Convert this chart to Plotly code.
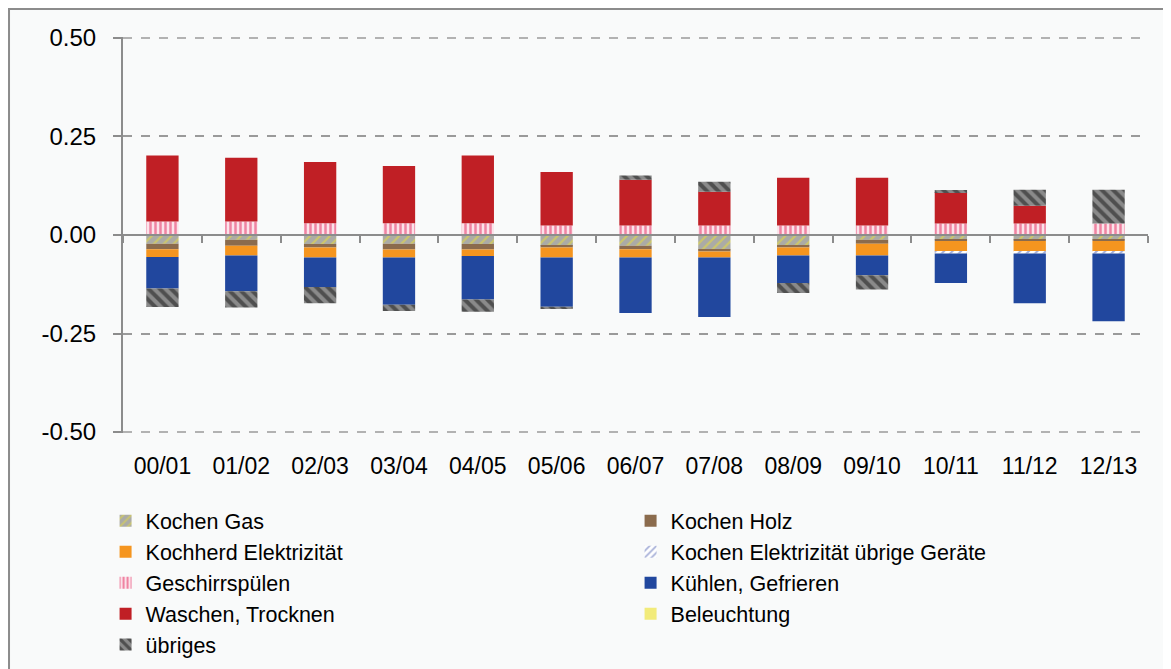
import plotly.graph_objects as go

# Data
seasons = ['00/01', '01/02', '02/03', '03/04', '04/05', '05/06', '06/07',
           '07/08', '08/09', '09/10', '10/11', '11/12', '12/13']

kochen_gas = [-0.022, -0.012, -0.023, -0.022, -0.023, -0.027, -0.027,
              -0.037, -0.027, -0.012, -0.012, -0.012, -0.012]
kochen_holz = [-0.014, -0.015, -0.009, -0.015, -0.014, -0.005, -0.009,
               -0.005, -0.005, -0.010, -0.003, -0.003, -0.003]
kochherd_el = [-0.020, -0.025, -0.025, -0.020, -0.016, -0.025, -0.021,
               -0.015, -0.020, -0.030, -0.027, -0.027, -0.027]
kochen_el_uebrige = [0, 0, 0, 0, 0, 0, 0, 0, 0, 0, -0.005, -0.005, -0.005]
geschirrspuelen = [0.034, 0.034, 0.030, 0.030, 0.030, 0.024, 0.024,
                   0.024, 0.024, 0.024, 0.029, 0.029, 0.029]
kuehlen = [-0.080, -0.091, -0.075, -0.120, -0.111, -0.125, -0.141,
           -0.151, -0.070, -0.050, -0.075, -0.126, -0.172]
waschen = [0.168, 0.162, 0.155, 0.145, 0.172, 0.136, 0.116,
           0.086, 0.121, 0.121, 0.080, 0.045, 0.0]
beleuchtung = [0] * 13
uebriges = [-0.047, -0.041, -0.041, -0.016, -0.031, -0.006, 0.011,
            0.025, -0.025, -0.036, 0.005, 0.041, 0.086]

y_ticks = [0.5, 0.25, 0.0, -0.25, -0.5]
y_labels = ['0.50', '0.25', '0.00', '-0.25', '-0.50']

FONT = 'Liberation Sans, Arial, sans-serif'
BG = '#F9FAFA'
GRID = '#9A9A9A'

# (name, values, color, pattern)
series = [
    ('Kochen Gas', kochen_gas, '#ABABA6',
     dict(shape='/', bgcolor='#ABABA6', fgcolor='#EDE230', size=7, solidity=0.3)),
    ('Kochen Holz', kochen_holz, '#8B6B4D', None),
    ('Kochherd Elektrizität', kochherd_el, '#F5951F', None),
    ('Kochen Elektrizität übrige Geräte', kochen_el_uebrige, '#FFFFFF',
     dict(shape='/', bgcolor='#FFFFFF', fgcolor='#4A5CAE', size=6, solidity=0.35)),
    ('Geschirrspülen', geschirrspuelen, '#FFFFFF',
     dict(shape='|', bgcolor='#FBE3EA', fgcolor='#E3245A', size=5, solidity=0.5)),
    ('Kühlen, Gefrieren', kuehlen, '#21479E', None),
    ('Waschen, Trocknen', waschen, '#C01F25', None),
    ('Beleuchtung', beleuchtung, '#F2EB7A', None),
    ('übriges', uebriges, '#8A8A8A',
     dict(shape='\\', bgcolor='#8A8A8A', fgcolor='#141414', size=8, solidity=0.5)),
]

fig = go.Figure()

for name, vals, color, pattern in series:
    marker = dict(color=color, line=dict(width=0))
    if pattern:
        marker['pattern'] = pattern
    fig.add_trace(go.Bar(x=seasons, y=vals, name=name, marker=marker))

# invisible trace on a second x axis, used to draw the zero line with ticks
fig.add_trace(go.Scatter(x=seasons, y=[None] * 13, xaxis='x2', mode='lines',
                         showlegend=False, hoverinfo='skip'))

# dashed lines at the outer ticks (plotly skips grid lines at the range ends)
edge_lines = [
    dict(type='line', xref='paper', yref='y', x0=0, x1=1, y0=v, y1=v,
         line=dict(color=GRID, width=1.5, dash='dash'), layer='below')
    for v in (y_ticks[0], y_ticks[-1])
]

# the page body adds an 8px margin, so the figure is 8px smaller than the window
fig.update_layout(
    width=1163,
    height=661,
    barmode='relative',
    bargap=0.59,
    paper_bgcolor=BG,
    plot_bgcolor=BG,
    font=dict(family=FONT, size=24, color='#000000'),
    margin=dict(l=115, r=23, t=29, b=236, autoexpand=False),
    xaxis=dict(
        type='category',
        range=[-0.5, 12.5],
        showline=False,
        showgrid=False,
        zeroline=False,
        ticks='',
        ticklabelstandoff=17,
        tickfont=dict(size=23),
    ),
    xaxis2=dict(
        type='category',
        overlaying='x',
        anchor='free',
        position=0.5,
        side='bottom',
        matches='x',
        showline=True,
        linecolor='#8C8C8C',
        linewidth=2,
        ticks='outside',
        tickson='boundaries',
        ticklen=7,
        tickwidth=2,
        tickcolor='#8C8C8C',
        showticklabels=False,
        showgrid=False,
    ),
    yaxis=dict(
        range=[-0.5025, 0.5025],
        tickvals=y_ticks,
        ticktext=y_labels,
        showline=True,
        linecolor='#8C8C8C',
        linewidth=2,
        ticks='outside',
        ticklen=8,
        tickwidth=2,
        tickcolor='#8C8C8C',
        showgrid=True,
        gridcolor=GRID,
        gridwidth=1.5,
        griddash='dash',
        zeroline=True,
        zerolinecolor='#8C8C8C',
        zerolinewidth=2,
        ticklabelstandoff=12,
        tickfont=dict(size=24),
    ),
    legend=dict(
        orientation='h',
        x=-0.017,
        xanchor='left',
        y=-0.17,
        yanchor='top',
        entrywidth=480,
        entrywidthmode='pixels',
        traceorder='normal',
        font=dict(size=21.5, family=FONT),
        bgcolor='rgba(0,0,0,0)',
        itemclick=False,
    ),
    showlegend=True,
    shapes=[
        dict(type='rect', xref='paper', yref='paper',
             x0=-0.1112, x1=1.05, y0=-0.65, y1=1.0707,
             line=dict(color='#8C8C8C', width=2), layer='below'),
    ] + edge_lines,
)

fig.write_html('out.html')
